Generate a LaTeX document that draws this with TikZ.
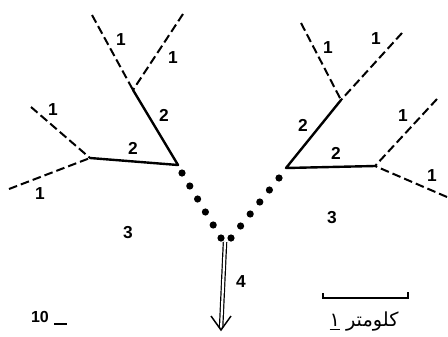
\documentclass[tikz,border=0pt]{standalone}
\usepackage{fontspec}
\setmainfont{Liberation Sans}
\newfontfamily\arabicfont[Script=Arabic]{DejaVu Sans}
\TeXXeTstate=1
\usetikzlibrary{calc}

\tikzset{
  main/.style={line width=1.8pt, line cap=round, line join=round},
  minor/.style={line width=1.5pt, dash pattern=on 6.5pt off 3pt},
  lbl/.style={font=\fontsize{13}{15}\selectfont\bfseries, inner sep=0pt},
  dotmark/.style={fill=black},
  outflow/.style={double, line width=0.9pt, double distance=1.6pt},
  barline/.style={line width=1.4pt}
}

\begin{document}
\begin{tikzpicture}[x=0.75pt, y=-0.75pt]
\useasboundingbox (0,0) rectangle (448,336);

% ---- left basin: junctions and stream ends
\coordinate (LtopA) at (92,15);
\coordinate (LtopB) at (183,14);
\coordinate (Lj1)   at (133,90);
\coordinate (Lmouth) at (178,165);
\coordinate (Lj2)   at (90,158);
\coordinate (LsideA) at (31,107);
\coordinate (LsideB) at (9,189);

% ---- right basin
\coordinate (RtopA) at (301,23);
\coordinate (RtopB) at (402,33);
\coordinate (Rj1)   at (341,100);
\coordinate (Rmouth) at (286,168);
\coordinate (Rj2)   at (375,166);
\coordinate (RsideA) at (437,99);
\coordinate (RsideB) at (447,197);

% first-order streams (dashed)
\draw[minor] (LtopA) -- (Lj1);
\draw[minor] (LtopB) -- (Lj1);
\draw[minor] (LsideA) -- (Lj2);
\draw[minor] (LsideB) -- (Lj2);
\draw[minor] (RtopA) -- (Rj1);
\draw[minor] (RtopB) -- (Rj1);
\draw[minor] (RsideA) -- (Rj2);
\draw[minor] (RsideB) -- (Rj2);

% second-order streams (solid)
\draw[main] (Lj1) -- (Lmouth) -- (Lj2);
\draw[main] (Rj1) -- (Rmouth) -- (Rj2);

% third-order stream (dotted)
\coordinate (Ld0) at (182,173);
\coordinate (Ld5) at (221,238);
\coordinate (Rd0) at (279,178);
\coordinate (Rd5) at (231,238);
\foreach \i in {0,...,5} {
  \fill[dotmark] ($(Ld0)!\i/5!(Ld5)$) circle[radius=2.7pt];
  \fill[dotmark] ($(Rd0)!\i/5!(Rd5)$) circle[radius=2.7pt];
}

% fourth-order outflow
\coordinate (outTop) at (225,242);
\coordinate (outTip) at (221,330);
\draw[outflow] (outTop) -- ($(outTop)!0.97!(outTip)$);
\draw[line width=1.1pt, line join=miter] ($(outTip)+(-10,-14)$) -- (outTip) -- ($(outTip)+(10,-14)$);

% stream order labels
\node[lbl] (n1a) at (121,40)  {1};
\node[lbl] (n1b) at (173,58)  {1};
\node[lbl] (n2a) at (164,115) {2};
\node[lbl] (n2b) at (133,148) {2};
\node[lbl] (n1c) at (53,110)  {1};
\node[lbl] (n1d) at (40,194)  {1};
\node[lbl] (n3a) at (128,233) {3};

\node[lbl] (n1e) at (328,48)  {1};
\node[lbl] (n1f) at (376,39)  {1};
\node[lbl] (n2c) at (303,125) {2};
\node[lbl] (n2d) at (336,153) {2};
\node[lbl] (n1g) at (403,116) {1};
\node[lbl] (n1h) at (432,176) {1};
\node[lbl] (n3b) at (332,218) {3};

\node[lbl] (n4) at (241,282) {4};

% page number
\node[lbl, font=\fontsize{12}{14}\selectfont\bfseries] (pg) at (40,317) {10};
\coordinate (dashL) at (54,324);
\coordinate (dashR) at (67,324);
\draw[line width=1.4pt] (dashL) -- (dashR);

% scale bar
\coordinate (sbL) at (323,298);
\coordinate (sbR) at (408,298);
\draw[barline] ($(sbL)+(0,-5)$) -- (sbL) -- (sbR) -- ($(sbR)+(0,-6)$);
\node[font=\arabicfont\fontsize{14.5}{16}\selectfont, inner sep=0pt] (km) at (364,322)
  {\beginR كلومتر \underline{١}\endR};
\end{tikzpicture}
\end{document}
